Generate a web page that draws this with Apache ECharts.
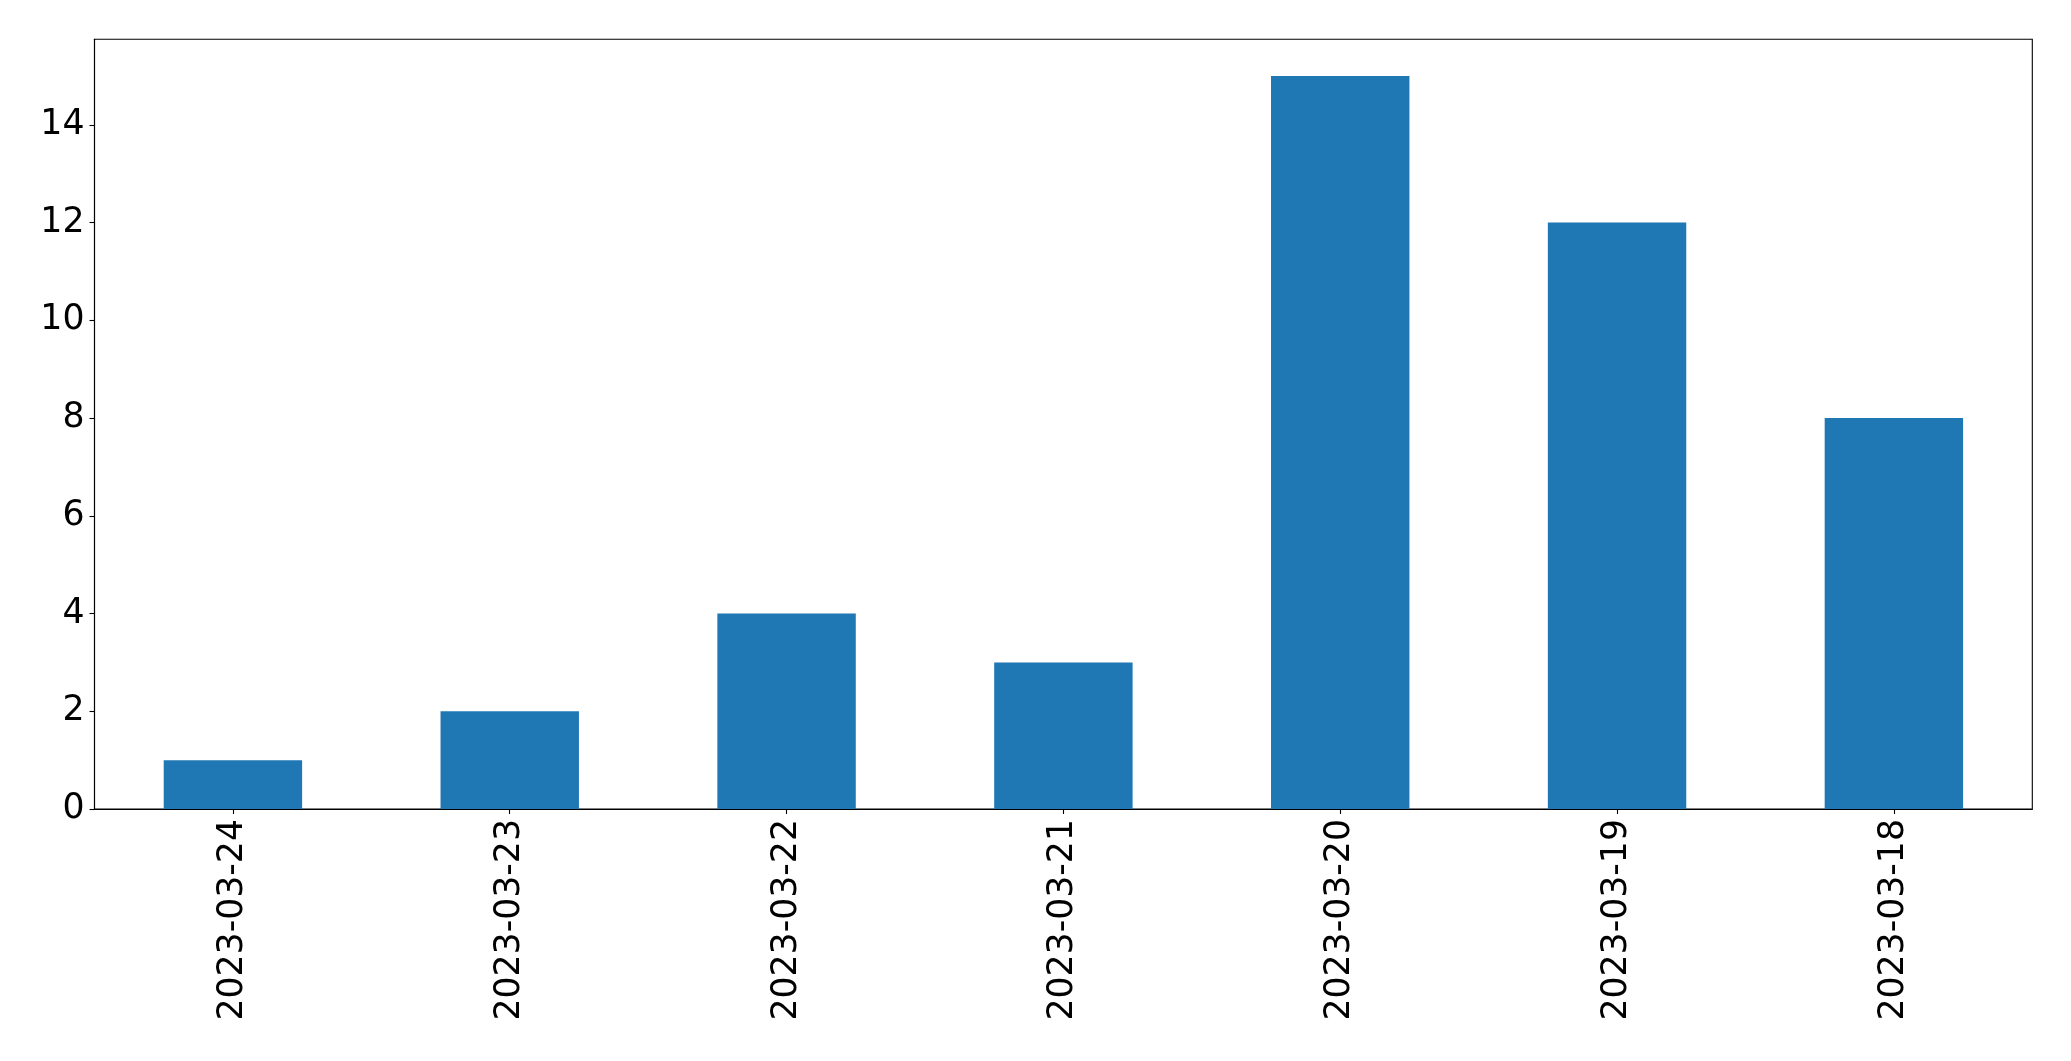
<!DOCTYPE html>
<html>
<head>
<meta charset="utf-8">
<script src="https://cdn.jsdelivr.net/npm/echarts@6/dist/echarts.min.js"></script>
<style>
html,body{margin:0;padding:0;background:#fff;}
#chart{width:2071px;height:1061px;}
</style>
</head>
<body>
<div id="chart"></div>
<script>
const categories = ["2023-03-24","2023-03-23","2023-03-22","2023-03-21","2023-03-20","2023-03-19","2023-03-18"];
const values = [1, 2, 4, 3, 15, 12, 8];
const yTicks = [0, 2, 4, 6, 8, 10, 12, 14];

const chart = echarts.init(document.getElementById('chart'), null, {renderer: 'canvas'});
const font = 'DejaVu Sans';
chart.setOption({
  animation: false,
  backgroundColor: '#ffffff',
  grid: {
    left: 94.5, top: 39.3, right: 38.7, bottom: 252,
    show: true, borderColor: '#000000', borderWidth: 1.1, backgroundColor: 'transparent'
  },
  xAxis: {
    type: 'category',
    data: categories,
    boundaryGap: true,
    axisLine: {show: true, lineStyle: {color: '#000', width: 1.1}},
    axisTick: {show: true, alignWithLabel: true, length: 5, lineStyle: {color: '#000', width: 1.1}},
    axisLabel: {rotate: 90, margin: 10, fontFamily: font, fontSize: 34.7, color: '#000', interval: 0},
    splitLine: {show: false}
  },
  yAxis: {
    type: 'value',
    min: 0, max: 15.75, interval: 2,
    axisLine: {show: true, lineStyle: {color: '#000', width: 1.1}},
    axisTick: {show: true, length: 5, lineStyle: {color: '#000', width: 1.1}, customValues: yTicks},
    axisLabel: {margin: 10, fontFamily: font, fontSize: 34.7, color: '#000', customValues: yTicks},
    splitLine: {show: false}
  },
  series: [{
    type: 'bar',
    data: values,
    barWidth: '50%',
    itemStyle: {color: '#1f77b4'}
  }]
});
</script>
</body>
</html>
